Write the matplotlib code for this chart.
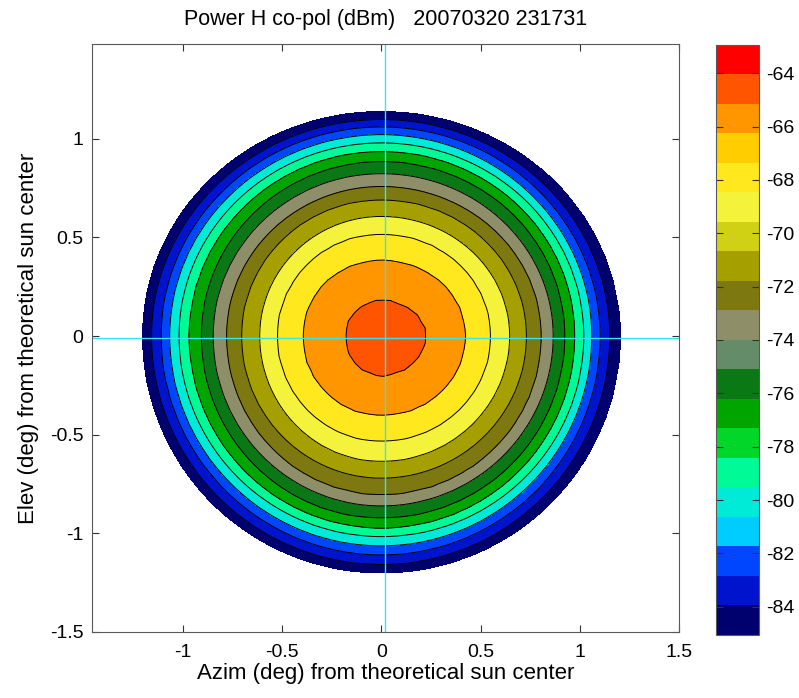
import numpy as np
import matplotlib
matplotlib.use("Agg")
import matplotlib.pyplot as plt
from matplotlib.colors import ListedColormap, Normalize
from matplotlib.cm import ScalarMappable

plt.rcParams['font.family'] = ['Liberation Sans', 'DejaVu Sans']

# ---- data ----
title = "Power H co-pol (dBm)   20070320 231731"
xlabel = "Azim (deg) from theoretical sun center"
ylabel = "Elev (deg) from theoretical sun center"

cbar_min, cbar_max = -85.06, -62.94
n_contour_bands = 14
peak_value = -63.9
outside_value = -88.0

# extents of each contour level (outermost first), in degrees from center
left_ext   = [1.205, 1.159, 1.109, 1.068, 1.020, 0.970, 0.907, 0.849, 0.781, 0.706, 0.613, 0.526, 0.398, 0.185]
right_ext  = [1.206, 1.150, 1.102, 1.060, 1.021, 0.975, 0.925, 0.866, 0.807, 0.732, 0.647, 0.552, 0.426, 0.227]
top_ext    = [1.140, 1.098, 1.061, 1.022, 0.980, 0.937, 0.886, 0.824, 0.759, 0.692, 0.607, 0.519, 0.387, 0.184]
bottom_ext = [1.203, 1.160, 1.110, 1.065, 1.017, 0.975, 0.924, 0.861, 0.806, 0.721, 0.637, 0.535, 0.405, 0.205]

cmap_colors = [
    (0, 0, 110), (0, 20, 205), (0, 70, 255), (0, 205, 255), (0, 235, 215),
    (0, 250, 150), (0, 215, 40), (0, 165, 0), (10, 120, 20), (100, 140, 105),
    (142, 142, 105), (125, 120, 15), (165, 160, 0), (208, 208, 20), (245, 242, 60),
    (255, 232, 30), (255, 205, 0), (255, 150, 0), (255, 85, 0), (255, 0, 0),
]
cbar_ticks = [-84, -82, -80, -78, -76, -74, -72, -70, -68, -66, -64]
xticks = [-1, -0.5, 0, 0.5, 1, 1.5]
yticks = [-1.5, -1, -0.5, 0, 0.5, 1]
center_azim, center_elev = 0.018, -0.01

# ---- build field ----
levels = np.linspace(cbar_min, cbar_max, n_contour_bands + 1)
cmap = ListedColormap([tuple(c / 255 for c in col) for col in cmap_colors])
norm = Normalize(cbar_min, cbar_max)

xg = np.arange(-1.46, 1.51, 0.035)
yg = np.arange(-1.5, 1.49, 0.035)
X, Y = np.meshgrid(xg, yg)
Z = np.empty_like(X)
L = np.array(left_ext); R = np.array(right_ext)
T = np.array(top_ext); B = np.array(bottom_ext)
lvl_vals = levels[:len(L)]
for idx in np.ndindex(X.shape):
    dx, dy = X[idx], Y[idx]
    r = np.hypot(dx, dy)
    a = R if dx >= 0 else L
    b = T if dy >= 0 else B
    th = np.arctan2(dy, dx)
    Rb = 1.0 / np.sqrt((np.cos(th) / a) ** 2 + (np.sin(th) / b) ** 2)
    radii = np.concatenate([[0.0], Rb[::-1], [Rb[0] * 1.06, 10.0]])
    vals = np.concatenate([[peak_value], lvl_vals[::-1], [outside_value, -95.0]])
    Z[idx] = np.interp(r, radii, vals)

band_colors = [cmap(norm(l + 0.02)) for l in levels[:-1]]

# ---- figure ----
fig = plt.figure(figsize=(7.99, 6.98), dpi=100)
ax = fig.add_axes([0.1148, 0.095, 0.735, 0.8415])
ax.contourf(X, Y, Z, levels=levels, colors=band_colors)
ax.contour(X, Y, Z, levels=levels[1:-1], colors='k', linewidths=0.7,
           linestyles='solid')
ax.axvline(center_azim, color=(0.2, 0.9, 0.95), lw=1)
ax.axhline(center_elev, color=(0.2, 0.9, 0.95), lw=1)
ax.set_xlim(-1.46, 1.5)
ax.set_ylim(-1.5, 1.48)
ax.set_xticks(xticks)
ax.set_xticklabels([f"{t:g}" for t in xticks])
ax.set_yticks(yticks)
ax.set_yticklabels([f"{t:g}" for t in yticks])
ax.tick_params(direction='in', top=True, right=True, labelsize=14, length=5,
               color='0.2')
ax.tick_params(axis='x', pad=9)
ax.tick_params(axis='y', pad=6)
for s in ax.spines.values():
    s.set_color('0.35')
ax.set_title(title, fontsize=15.5, pad=14)
ax.set_xlabel(xlabel, fontsize=16, labelpad=1)
ax.set_ylabel(ylabel, fontsize=16, labelpad=8)

cax = fig.add_axes([0.8957, 0.0903, 0.0546, 0.8453])
cb = fig.colorbar(ScalarMappable(norm=norm, cmap=cmap), cax=cax)
cb.set_ticks(cbar_ticks)
cb.set_ticklabels([f"{t}" for t in cbar_ticks])
cax.tick_params(direction='in', left=True, right=True, labelsize=14, length=5,
                color='0.2', pad=5)
cb.outline.set_edgecolor('0.35')

fig.savefig("out.png", dpi=100)
